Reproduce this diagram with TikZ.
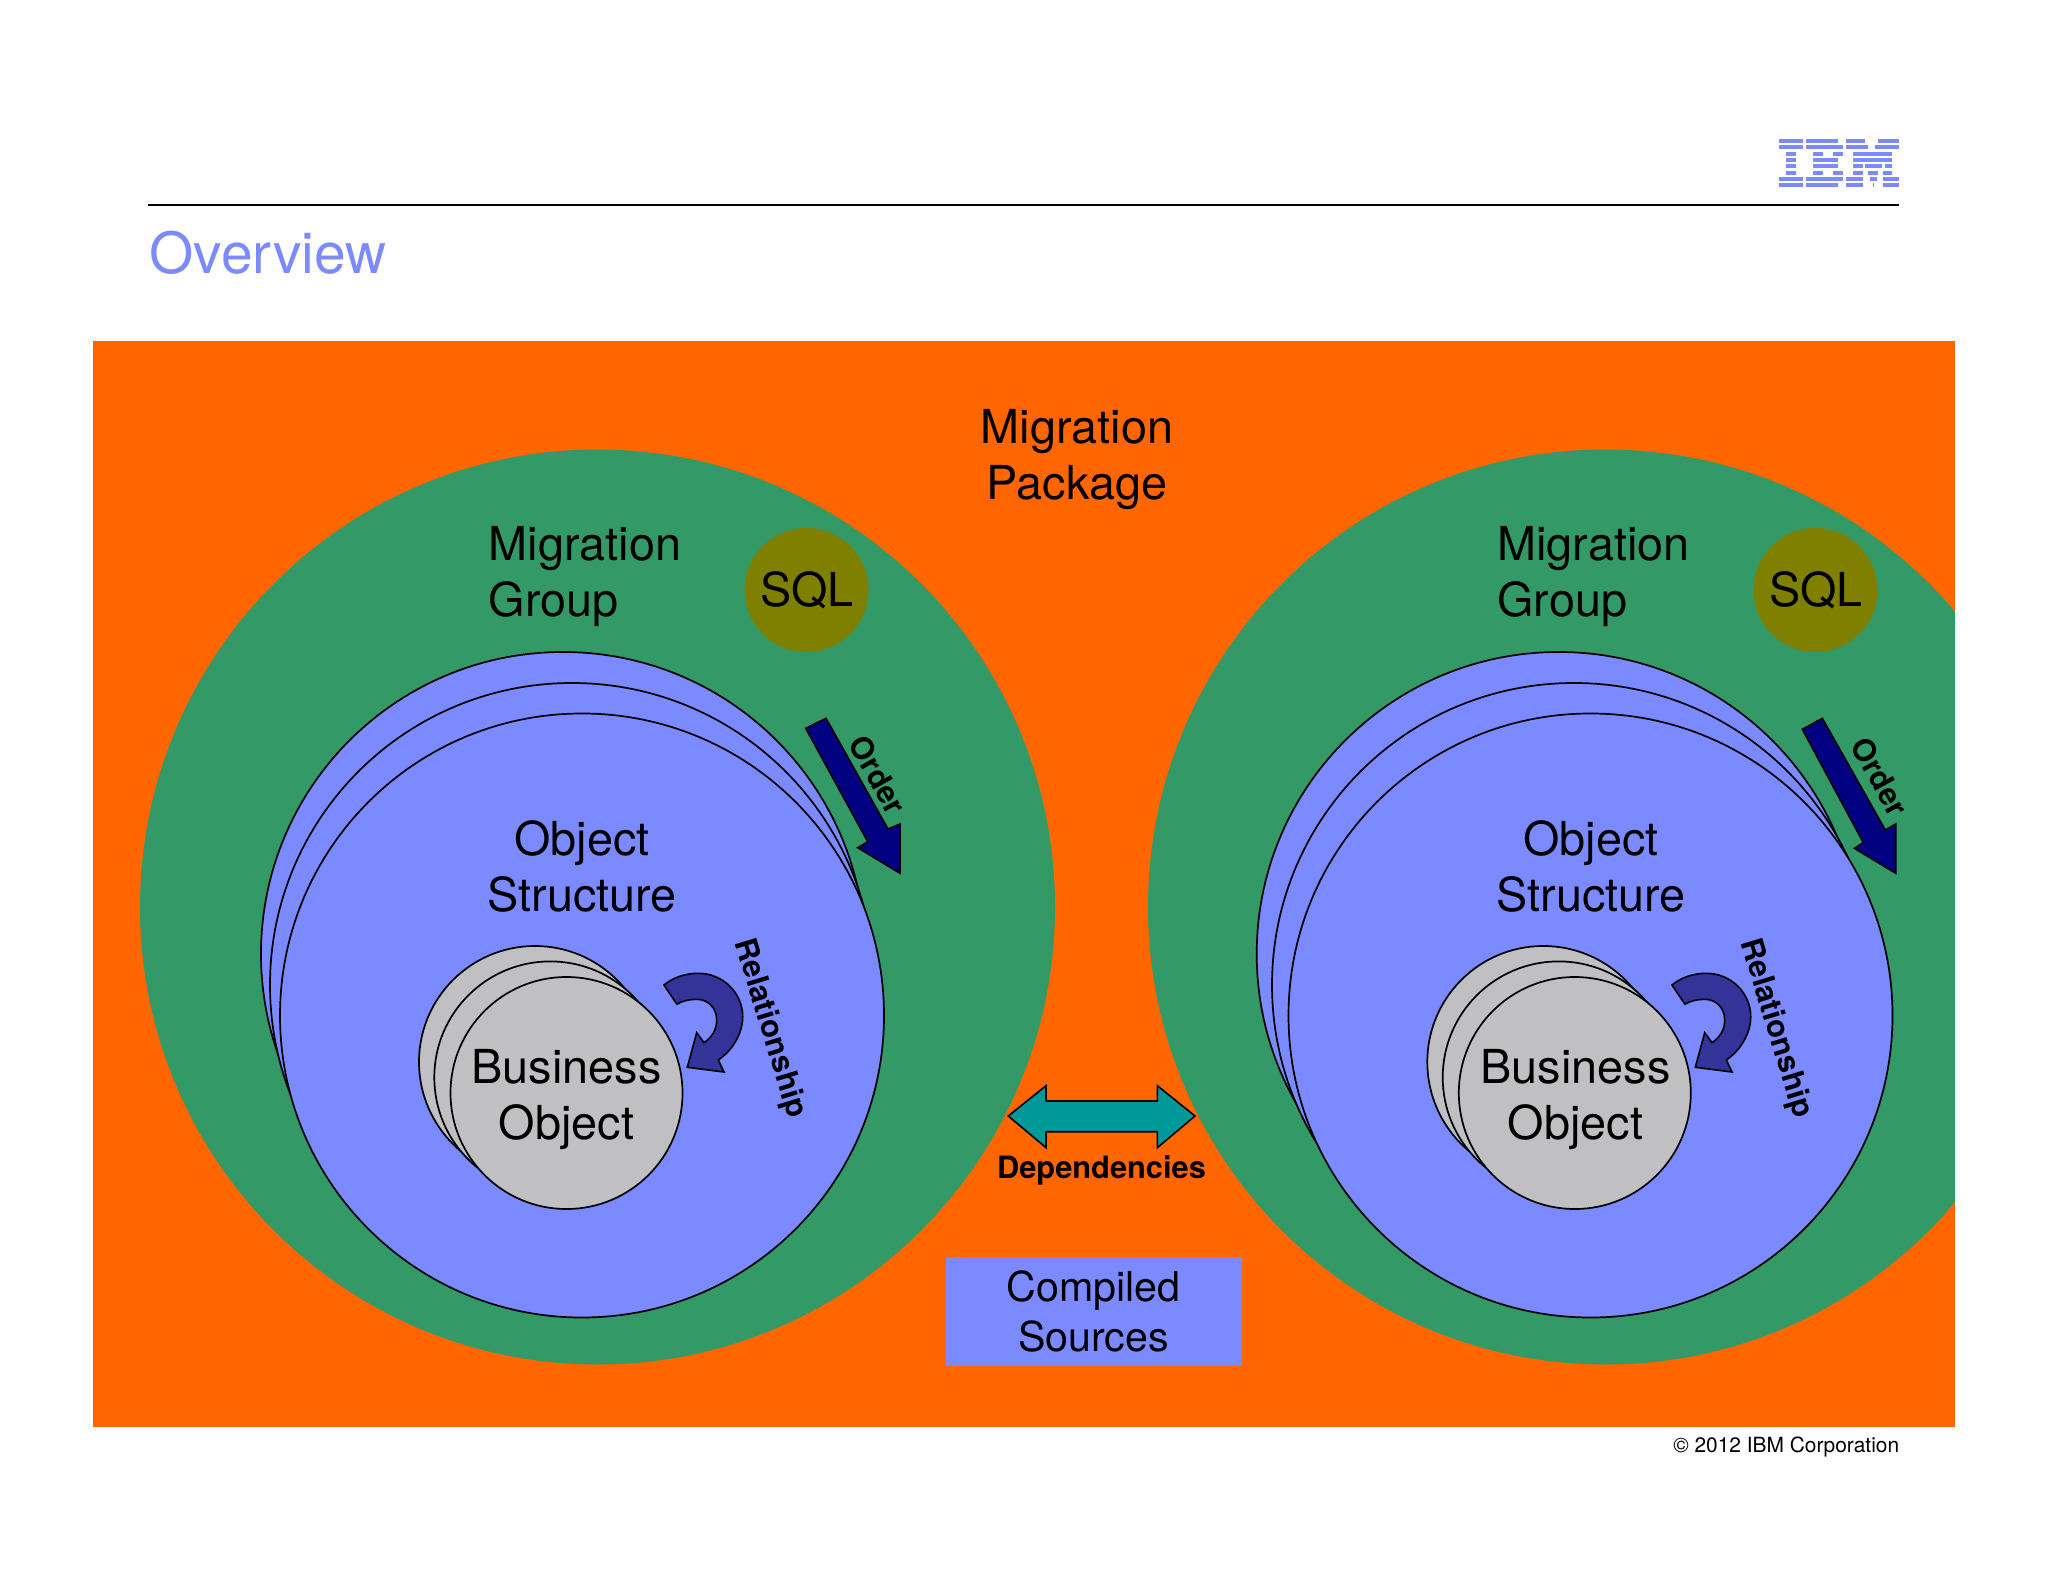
\documentclass[tikz,border=0pt]{standalone}
\usepackage{fontspec}
\setmainfont{TeX Gyre Heros}
\definecolor{orangebg}{HTML}{FF6600}
\definecolor{greenbg}{HTML}{339966}
\definecolor{bluefill}{HTML}{7B8BFF}
\definecolor{greyfill}{HTML}{C0BFC2}
\definecolor{olivefill}{HTML}{808000}
\definecolor{navyfill}{HTML}{000080}
\definecolor{curlfill}{HTML}{333399}
\definecolor{tealfill}{HTML}{009999}
\tikzset{
  blob/.style={circle,inner sep=0pt,outer sep=0pt,minimum size=#1 pt},
  green disc/.style={blob=457.5,fill=greenbg},
  bluedisc/.style={blob=302,fill=bluefill,draw=black,line width=0.85pt},
  greydisc/.style={blob=116,fill=greyfill,draw=black,line width=0.85pt},
  sqldisc/.style={blob=62,fill=olivefill,font=\fontsize{23.4}{28}\selectfont,text=black},
  big/.style={font=\fontsize{23.4}{28}\selectfont,align=center,inner sep=0pt,text=black},
  bigleft/.style={font=\fontsize{23.4}{28}\selectfont,align=left,inner sep=0pt,text=black,anchor=west},
  small/.style={font=\fontsize{15.4}{17}\selectfont\bfseries,inner sep=0pt,text=black},
  arrowshape/.style={draw=black,line width=0.8pt,line join=miter},
  ibm/.style={fill=bluefill},
}
\newcommand{\ibrow}[3]{\fill[ibm] (#2,{139+6.33*#1}) rectangle (#3,{143+6.33*#1});}
\newcommand{\curlarrow}[1]{%
  \begin{scope}[shift={(#1,0)}]
  \draw[arrowshape,fill=curlfill] (664,985)
    .. controls (672,978) and (685,973.3) .. (698.3,973.3)
    .. controls (723,973.3) and (742.7,993) .. (742.7,1016.7)
    .. controls (742.7,1033) and (733,1050) .. (718.3,1060)
    -- (724,1072) -- (687.3,1067.3) -- (696.7,1032.7) -- (704,1042.7)
    .. controls (712,1037) and (716.7,1030) .. (716.7,1020)
    .. controls (716.7,1008) and (708,999.3) .. (696.7,999.3)
    .. controls (689,999.3) and (682,1001) .. (677,1004.3) -- cycle;
  \end{scope}}
\begin{document}
\begin{tikzpicture}[x=0.5pt,y=-0.5pt]
\useasboundingbox (0,0) rectangle (2048,1582);
% header
\coordinate (ruleL) at (148,205);
\coordinate (ruleR) at (1899,205);
\draw[black,line width=1pt] (ruleL) -- (ruleR);
\node[anchor=west,inner sep=0pt,text=bluefill,font=\fontsize{28.45}{30}\selectfont] (title) at (149,253) {Overview};
% IBM logo
\ibrow{0}{1779}{1802.7}\ibrow{1}{1779}{1802.7}\ibrow{6}{1779}{1802.7}\ibrow{7}{1779}{1802.7}
\ibrow{2}{1785.7}{1795.7}\ibrow{3}{1785.7}{1795.7}\ibrow{4}{1785.7}{1795.7}\ibrow{5}{1785.7}{1795.7}
\ibrow{0}{1805.7}{1838.3}\ibrow{1}{1805.7}{1842.7}\ibrow{6}{1805.7}{1842.7}\ibrow{7}{1805.7}{1838.3}
\ibrow{2}{1812.7}{1822.7}\ibrow{2}{1832.7}{1843.3}\ibrow{5}{1812.7}{1822.7}\ibrow{5}{1832.7}{1843.3}
\ibrow{3}{1812.7}{1838.3}\ibrow{4}{1812.7}{1838.3}
\ibrow{0}{1846}{1865}\ibrow{0}{1878.3}{1899.3}
\ibrow{1}{1846}{1868.3}\ibrow{1}{1875}{1899.3}
\ibrow{2}{1852.7}{1892.3}\ibrow{3}{1852.7}{1892.3}
\ibrow{4}{1852.7}{1862.7}\ibrow{4}{1865}{1881.7}\ibrow{4}{1885}{1892.3}
\ibrow{5}{1852.7}{1862.7}\ibrow{5}{1868.3}{1878.3}\ibrow{5}{1882.7}{1892.3}
\ibrow{6}{1846}{1862.7}\ibrow{6}{1870}{1876.7}\ibrow{6}{1882.7}{1899.3}
\ibrow{7}{1846}{1862.7}\ibrow{7}{1872.7}{1874.3}\ibrow{7}{1882.7}{1899.3}
% orange panel
\fill[orangebg] (93,341) rectangle (1955,1427);
\begin{scope}
\clip (93,341) rectangle (1955,1427);
\node[green disc] (groupL) at (597.5,907) {};
\node[green disc] (groupR) at (1605.5,907) {};
\end{scope}
\node[big] (pkg) at (1077,460) {Migration\\Package};
% left group
\node[bigleft] (mgL) at (488.5,577) {Migration\\Group};
\node[sqldisc] (sqlL) at (806.5,590) {};
\node[big] (sqlLt) at (807,590.5) {SQL};
\node[bluedisc] (osL1) at (563,954) {};
\node[bluedisc] (osL2) at (572,985) {};
\node[bluedisc] (osL3) at (582,1015.5) {};
\node[big] (osLt) at (582,866.5) {Object\\Structure};
\node[greydisc] (boL1) at (535,1062) {};
\node[greydisc] (boL2) at (550.3,1077.4) {};
\node[greydisc] (boL3) at (566.5,1093) {};
\node[big] (boLt) at (566.5,1100) {Business\\Object};
\draw[arrowshape,fill=navyfill] (805.7,728.3) -- (826,718.3) -- (888,829) -- (900,824) -- (900,873.3) -- (857.7,847.7) -- (867.7,841.7) -- cycle;
\node[small,rotate=-61] (ordL) at (878,775) {Order};
\curlarrow{0}
\node[small,rotate=-73] (relL) at (769.5,1028.7) {Relationship};
% right group
\node[bigleft] (mgR) at (1497,577) {Migration\\Group};
\node[sqldisc] (sqlR) at (1815.5,590) {};
\node[big] (sqlRt) at (1816,590.5) {SQL};
\node[bluedisc] (osR1) at (1558.7,954) {};
\node[bluedisc] (osR2) at (1574,985) {};
\node[bluedisc] (osR3) at (1590.5,1015.5) {};
\node[big] (osRt) at (1591,866.5) {Object\\Structure};
\node[greydisc] (boR1) at (1543.3,1062) {};
\node[greydisc] (boR2) at (1558.7,1077.4) {};
\node[greydisc] (boR3) at (1574.8,1093) {};
\node[big] (boRt) at (1575.5,1100) {Business\\Object};
\draw[arrowshape,fill=navyfill] (1802.3,729.3) -- (1822.3,718.3) -- (1885.3,830) -- (1895.7,824) -- (1895.7,873.3) -- (1854.3,848.3) -- (1863.3,842.7) -- cycle;
\node[small,rotate=-61] (ordR) at (1880,776.7) {Order};
\curlarrow{1008}
\node[small,rotate=-73] (relR) at (1775.5,1028.7) {Relationship};
% dependencies
\draw[arrowshape,fill=tealfill] (1008.3,1116) -- (1046,1085.7) -- (1046,1101) -- (1157.3,1101) -- (1157.3,1085.7) -- (1195,1116) -- (1157.3,1147.7) -- (1157.3,1131.7) -- (1046,1131.7) -- (1046,1147.7) -- cycle;
\node[small] (dep) at (1101.5,1170.5) {Dependencies};
% compiled sources
\node[fill=bluefill,inner sep=0pt,minimum width=148pt,minimum height=54.5pt,text=black,font=\fontsize{20.6}{25}\selectfont,align=center] (cs) at (1093.5,1311) {Compiled\\Sources};
\node[anchor=east,inner sep=0pt,text=black,font=\fontsize{10.45}{12}\selectfont] (copy) at (1899.5,1446.5) {© 2012 IBM Corporation};
\end{tikzpicture}
\end{document}
